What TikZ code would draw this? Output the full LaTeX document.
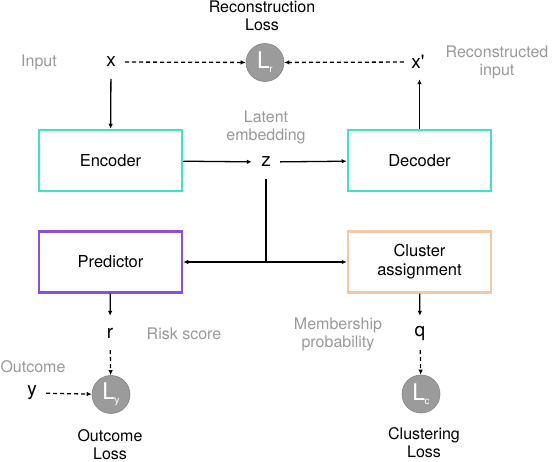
\documentclass[tikz,border=0pt]{standalone}
\usepackage{fontspec}
\setmainfont{TeX Gyre Heros}
\usetikzlibrary{arrows.meta}
\definecolor{encteal}{HTML}{40E0CA}
\definecolor{predpurple}{HTML}{8A50DC}
\definecolor{clupeach}{HTML}{F2C8A6}
\definecolor{labgray}{HTML}{999999}
\definecolor{lossgray}{HTML}{9B9B9B}
\newcommand*{\LossL}[1]{L\kern-0.5pt\raisebox{-4pt}{\fontsize{10}{10}\selectfont #1}}

\begin{document}
\begin{tikzpicture}[x=1pt,y=-1pt,
  block/.style={draw,line width=2.5pt,minimum width=143pt,minimum height=61pt,
    align=center,text=black,font=\fontsize{16.5}{19}\selectfont},
  var/.style={inner sep=0pt,minimum width=28pt,minimum height=34pt,
    font=\fontsize{19}{19}\selectfont},
  loss/.style={circle,fill=lossgray,draw=lossgray!85!black,line width=0.6pt,
    minimum size=38pt,inner sep=0pt,text=white,font=\fontsize{23}{23}\selectfont},
  note/.style={align=center,text=labgray,font=\fontsize{16}{18}\selectfont},
  losstext/.style={align=center,text=black,font=\fontsize{16}{18}\selectfont},
  flow/.style={line width=1.3pt,-{Latex[length=5pt,width=4.5pt]}},
  dashflow/.style={flow,dash pattern=on 4pt off 3pt}]
\useasboundingbox (0,0) rectangle (552,462);
% blocks
\node[block,draw=encteal] (Enc) at (110.5,160.5) {Encoder};
\node[block,draw=encteal] (Dec) at (419.5,160.5) {Decoder};
\node[block,draw=predpurple] (Pred) at (110.5,262) {Predictor};
\node[block,draw=clupeach] (Clus) at (419.5,262) {Cluster\\assignment};
% variables
\node[var] (X) at (111,62) {x};
\node[var] (Xp) at (418,62) {x\textquotesingle};
\node[var] (Z) at (266,162) {z};
\node[var] (R) at (110,333) {r};
\node[var] (Q) at (420,333) {q};
\node[var] (Y) at (32,393) {y};
% losses
\node[loss] (Lr) at (265,62.5) {\LossL{r}};
\node[loss] (Ly) at (111,394.5) {\LossL{y}};
\node[loss] (Lc) at (421,394) {\LossL{c}};
\coordinate (B) at (Z |- Pred);
%%%%%%%%%%%%%%%%%%%%%%%%%%%%%%
\node[losstext] (LrT) at (262,16) {Reconstruction\\Loss};
\node[losstext] (LyT) at (110,445) {Outcome\\Loss};
\node[losstext] (LcT) at (424,443) {Clustering\\Loss};
\node[note] (In) at (39,62) {Input};
\node[note] (Rec) at (497,62) {Reconstructed\\input};
\node[note] (Lat) at (266,127) {Latent\\embedding};
\node[note] (Risk) at (184,334) {Risk score};
\node[note] (Mem) at (338,334.5) {Membership\\probability};
\node[note] (Out) at (33,367) {Outcome};
%%%%%%%%%%%%%%%%%%%%%%%%%%%%%%
\draw[flow] (X) -- (Enc);
\draw[flow] (Enc) -- (Z);
\draw[flow] (Z) -- (Dec);
\draw[flow] (Dec.north) -- (Dec.north |- Xp.south);
\draw[line width=1.3pt] (Z) -- (B);
\draw[flow] (B) -- (Pred);
\draw[flow] (B) -- (Clus);
\draw[flow] (Pred) -- (R);
\draw[flow] (Clus) -- (Q);
\draw[dashflow] (X) -- (Lr);
\draw[dashflow] (Xp) -- (Lr);
\draw[dashflow] (R) -- (Ly);
\draw[dashflow] (Y) -- (Ly);
\draw[dashflow] (Q) -- (Lc);
\end{tikzpicture}
\end{document}
